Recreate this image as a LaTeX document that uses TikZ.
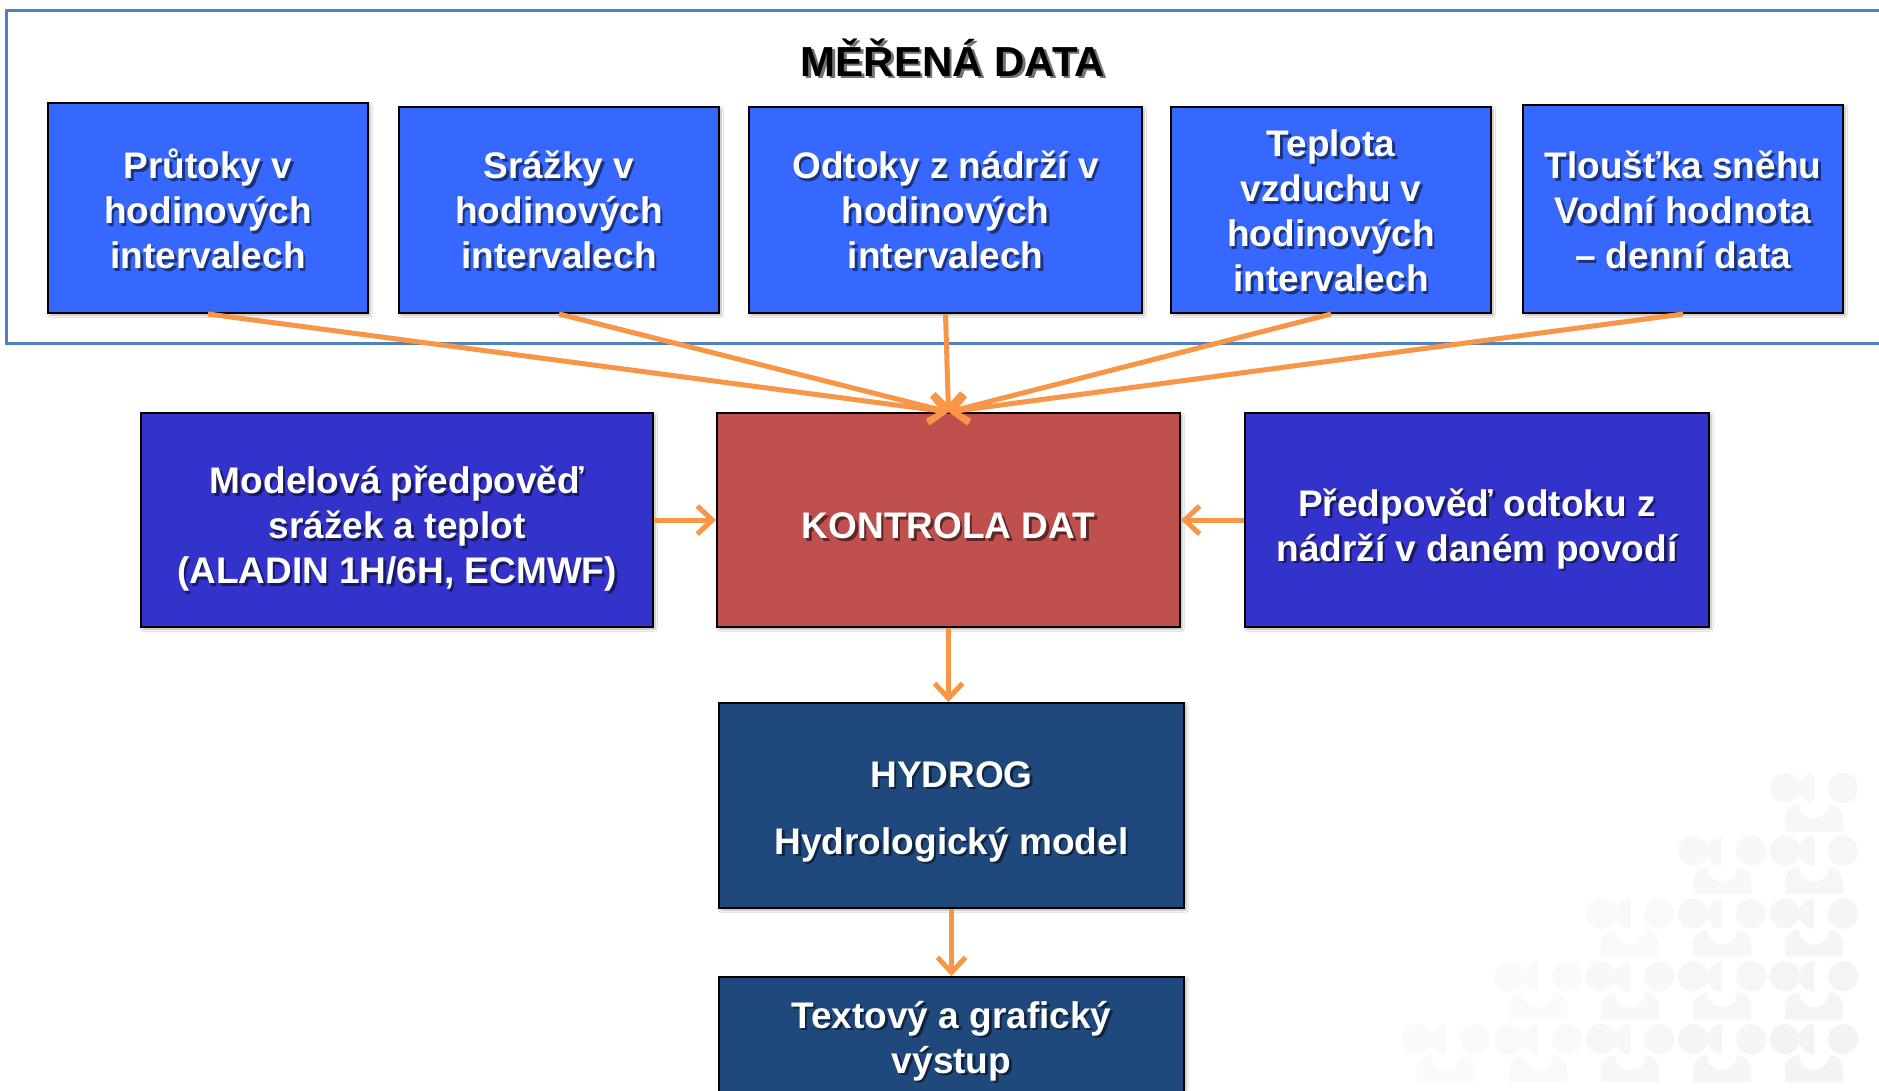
\documentclass[tikz,border=0pt]{standalone}
\usepackage{fontspec}
\setmainfont{Liberation Sans}
\usetikzlibrary{arrows.meta,calc,shadows.blur}
\definecolor{topblue}{HTML}{3668FF}
\definecolor{sideblue}{HTML}{3333CC}
\definecolor{ctrlred}{HTML}{C0504D}
\definecolor{darkblue}{HTML}{1F497D}
\definecolor{arrorange}{HTML}{F79646}
\definecolor{framecol}{HTML}{4F81BD}
\newcommand\boxfont{\fontsize{37}{45}\selectfont\bfseries}
% name, style, position, text downshift (pt), text
\newcommand\bx[5]{%
  \node[#2, path picture={%
    \node[shtxt] at ($(path picture bounding box.center)+(2.5pt,-2.5pt-#4pt)$) {#5};%
    \node[maintxt] at ($(path picture bounding box.center)+(0pt,-#4pt)$) {#5};%
  }] (#1) at #3 {};%
}
\begin{document}
\begin{tikzpicture}[x=1pt,y=-1pt,
  basebox/.style={draw=black, line width=2pt, inner sep=0pt,
    blur shadow={shadow blur steps=6, shadow xshift=2pt, shadow yshift=-2pt, shadow opacity=30}},
  topbox/.style={basebox, fill=topblue},
  sidebox/.style={basebox, fill=sideblue},
  redbox/.style={basebox, fill=ctrlred},
  darkbox/.style={basebox, fill=darkblue},
  shtxt/.style={inner sep=0pt, align=center, font=\boxfont, text=black, text opacity=0.5},
  maintxt/.style={inner sep=0pt, align=center, font=\boxfont, text=white},
  arr/.style={draw=arrorange, line width=5pt, -{Straight Barb[length=15pt,width=28pt]}},
  titlefont/.style={font=\fontsize{42}{48}\selectfont\bfseries, inner sep=0pt, anchor=base}
]
\useasboundingbox (0,0) rectangle (1879,1090);
\fill[white] (0,0) rectangle (1879,1090);

% background decoration
\foreach \r in {0,...,4}{
  \foreach \c in {0,...,\r}{
    \pgfmathsetmacro\X{1785-92*\c}
    \pgfmathsetmacro\Y{788+62.8*\r}
    \pgfmathsetmacro\pct{4.6-0.7*\c-0.4*(4-\r)}
    \begin{scope}[shift={(\X,\Y)}]
      \fill[black!\pct] (0,0) circle[radius=15];
      \fill[black!\pct] (29,-15) arc[start angle=270, end angle=90, radius=15] -- cycle;
      \fill[black!\pct] (58,0) circle[radius=15];
      \fill[black!\pct] (0,43) -- (0,30) arc[start angle=180, end angle=270, radius=14]
        arc[start angle=180, end angle=0, radius=15]
        arc[start angle=270, end angle=360, radius=14] -- (58,43) -- cycle;
    \end{scope}
  }
}

% frame
\draw[framecol, line width=3pt] (6,10) rectangle (1900,343);

% title
\node[titlefont, text=black!55] (titles) at (955.5,78.5) {MĚŘENÁ DATA};
\node[titlefont, text=black] (title) at (953,76) {MĚŘENÁ DATA};

% top row
\bx{b1}{topbox, minimum width=320pt, minimum height=210pt}{(208,208)}{1}{Průtoky v\\hodinových\\intervalech}
\bx{b2}{topbox, minimum width=320pt, minimum height=206pt}{(559,210)}{0}{Srážky v\\hodinových\\intervalech}
\bx{b3}{topbox, minimum width=393pt, minimum height=206pt}{(945.5,210)}{0}{Odtoky z nádrží v\\hodinových\\intervalech}
\bx{b4}{topbox, minimum width=320pt, minimum height=206pt}{(1331,210)}{1}{Teplota\\vzduchu v\\hodinových\\intervalech}
\bx{b5}{topbox, minimum width=320pt, minimum height=208pt}{(1683,209)}{1}{Tloušťka sněhu\\Vodní hodnota\\– denní data}

% middle row
\bx{ml}{sidebox, minimum width=512pt, minimum height=214pt}{(397,520)}{9}{Modelová předpověď\\srážek a teplot\\(ALADIN 1H/6H, ECMWF)}
\bx{kd}{redbox, minimum width=463pt, minimum height=214pt}{(948.5,520)}{6}{KONTROLA DAT}
\bx{pr}{sidebox, minimum width=464pt, minimum height=214pt}{(1477,520)}{9}{Předpověď odtoku z\\nádrží v daném povodí}

% lower boxes
\bx{hy}{darkbox, minimum width=465pt, minimum height=205pt}{(951.5,805.5)}{6}{HYDROG\\[22pt]Hydrologický model}
\bx{out}{darkbox, minimum width=465pt, minimum height=118pt}{(951.5,1036)}{5}{Textový a grafický\\výstup}

% connectors
\draw[arr] (b1.south) -- (kd.north);
\draw[arr] (b2.south) -- (kd.north);
\draw[arr] (b3.south) -- (kd.north);
\draw[arr] (b4.south) -- (kd.north);
\draw[arr] (b5.south) -- (kd.north);
\draw[arr] (ml.east) -- (kd.west);
\draw[arr] (pr.west) -- (kd.east);
\draw[arr] (kd.south) -- (kd.south |- hy.north);
\draw[arr] (hy.south) -- (out.north);
\end{tikzpicture}
\end{document}
